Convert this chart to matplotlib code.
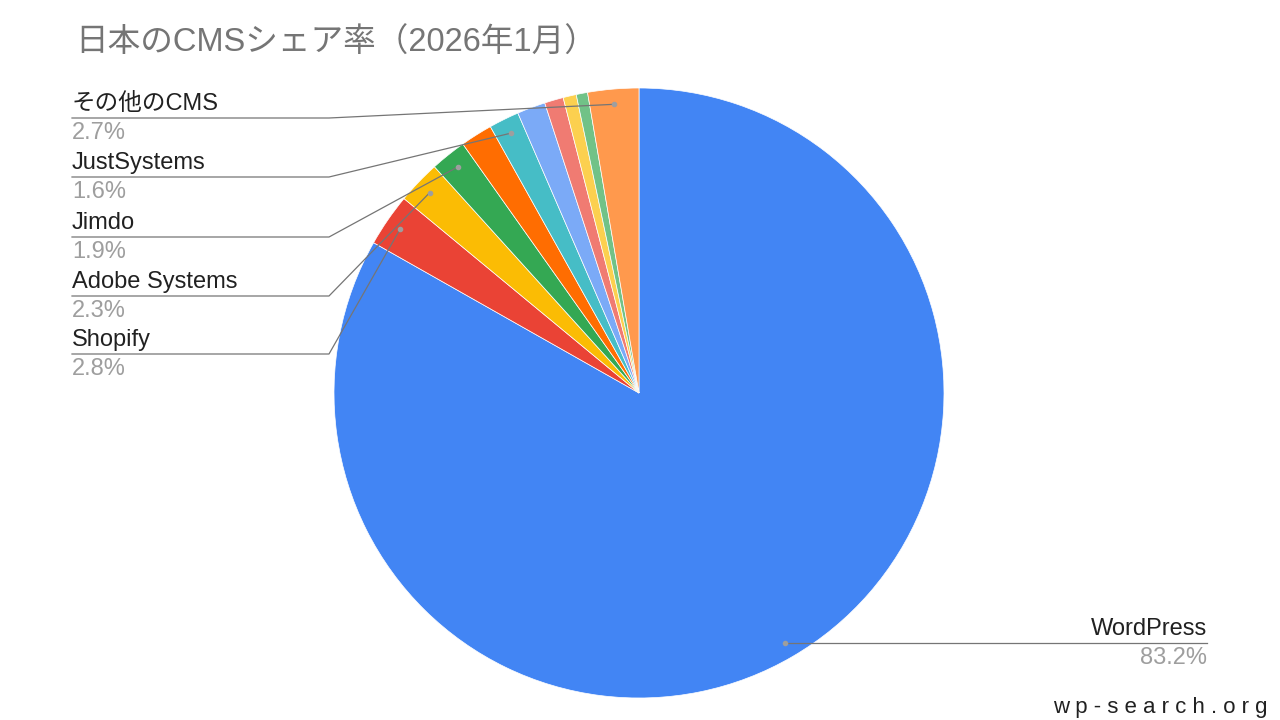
import numpy as np
import matplotlib.pyplot as plt

plt.rcParams['font.family'] = ['Liberation Sans', 'Noto Sans CJK JP', 'DejaVu Sans']

title = '日本のCMSシェア率（2026年1月）'
# 時計回り、12時の位置から
names = ['WordPress', 'Shopify', 'Adobe Systems', 'Jimdo', '', 'JustSystems', '', '', '', '', 'その他のCMS']
shares = [83.2, 2.8, 2.3, 1.9, 1.7, 1.6, 1.5, 1.0, 0.7, 0.6, 2.7]
colors = ['#4285F4', '#EA4335', '#FBBC04', '#34A853', '#FF6D01', '#46BDC6',
          '#7BAAF7', '#F07B72', '#FCD04F', '#71C287', '#FF994D']

# 左側ラベルの下線の高さ (px, 上から)
left_rows = {'その他のCMS': 118, 'JustSystems': 177, 'Jimdo': 237,
             'Adobe Systems': 296, 'Shopify': 354}

H = 720
def Y(v):
    return H - v

fig = plt.figure(figsize=(12.8, 7.2), dpi=100)
ax = fig.add_axes([0, 0, 1, 1])

cx, cy, r = 639, Y(393), 305
wedges, _ = ax.pie(shares, colors=colors, startangle=90, counterclock=False,
                   center=(cx, cy), radius=r,
                   wedgeprops=dict(edgecolor='white', linewidth=0.5))
ax.set_xlim(0, 1280)
ax.set_ylim(0, H)
ax.set_aspect('equal')
ax.axis('off')

line_c = '#757575'
name_c = '#212121'
pct_c = '#9e9e9e'
fs = 17

for w, name, v in zip(wedges, names, shares):
    if not name:
        continue
    mid = np.deg2rad((w.theta1 + w.theta2) / 2)
    px = cx + 0.95 * r * np.cos(mid)
    py = cy + 0.95 * r * np.sin(mid)
    if name in left_rows:
        uy = Y(left_rows[name])
        ax.plot([72, 329, px], [uy, uy, py], color=line_c, lw=0.9)
        ax.plot(px, py, 'o', ms=3, color=pct_c)
        ax.text(72, uy + 3, name, fontsize=fs, color=name_c, va='bottom', ha='left')
        ax.text(72, uy - 4, f'{v:.1f}%', fontsize=fs, color=pct_c, va='top', ha='left')
    else:
        uy = py
        ax.plot([px, 1207], [uy, uy], color=line_c, lw=0.9)
        ax.plot(px, py, 'o', ms=3, color=pct_c)
        ax.text(1207, uy + 3, name, fontsize=fs, color=name_c, va='bottom', ha='right')
        ax.text(1207, uy - 4, f'{v:.1f}%', fontsize=fs, color=pct_c, va='top', ha='right')

ax.text(75, Y(43), title, fontsize=23.5, color='#757575', va='center', ha='left')
ax.text(1268, Y(708), 'w p - s e a r c h . o r g', fontsize=16, color='#212121',
        va='center', ha='right')

fig.savefig('out.png', dpi=100)
